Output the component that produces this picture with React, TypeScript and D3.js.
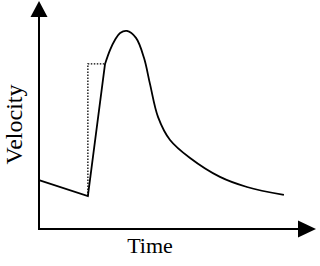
import React from "react";
import * as d3 from "d3";

// Schematic velocity profile (arbitrary units)
const decayTime = [0, 18.8, 25.4];
const decayVelocity = [23.3, 15.7, 78.6];

const pulseTime = [25.4, 27.3, 29.2, 31.2, 33.8, 37.3, 40.4, 42.7, 45.8, 50.4, 58.1, 69.6, 80.0, 94.2];
const pulseVelocity = [78.6, 85.2, 90.0, 93.3, 94.3, 91.0, 81.4, 69.0, 53.3, 42.4, 33.8, 24.8, 20.0, 16.2];

const stepTime = [18.8, 18.8, 25.4];
const stepVelocity = [15.7, 78.6, 78.6];

const xLabel = "Time";
const yLabel = "Velocity";

export default function App() {
  const W = 320, H = 266;
  const x = d3.scaleLinear().domain([0, 100]).range([39, 299]);
  const y = d3.scaleLinear().domain([0, 100]).range([229, 19]);

  const lin = d3.line<[number, number]>().x(d => x(d[0])).y(d => y(d[1])).curve(d3.curveLinear);
  const smooth = d3.line<[number, number]>().x(d => x(d[0])).y(d => y(d[1])).curve(d3.curveCatmullRom.alpha(0.5));

  const decay = decayTime.map((t, i) => [t, decayVelocity[i]] as [number, number]);
  const pulse = pulseTime.map((t, i) => [t, pulseVelocity[i]] as [number, number]);
  const step = stepTime.map((t, i) => [t, stepVelocity[i]] as [number, number]);

  const x0 = x(0), y0 = y(0);
  const font = "'Liberation Serif', 'Times New Roman', serif";

  return (
    <svg width={W} height={H} style={{ position: "absolute", left: 0, top: 0, background: "#fff" }}>
      <rect width={W} height={H} fill="#fff" />
      {/* axes */}
      <line x1={x0} y1={y0} x2={x0} y2={17} stroke="#000" strokeWidth={2} />
      <path d={`M${x0 - 8.5},17 L${x0 + 8.5},17 L${x0},1 Z`} fill="#000" />
      <line x1={x0 - 1} y1={y0} x2={298} y2={y0} stroke="#000" strokeWidth={2} />
      <path d={`M298,${y0 - 8.5} L298,${y0 + 8.5} L316,${y0} Z`} fill="#000" />

      {/* dotted step */}
      <path d={lin(step) || ""} fill="none" stroke="#000" strokeWidth={1.3} strokeDasharray="1.5 1.5" />
      {/* curve */}
      <path d={lin(decay) || ""} fill="none" stroke="#000" strokeWidth={1.8} strokeLinejoin="miter" />
      <path d={smooth(pulse) || ""} fill="none" stroke="#000" strokeWidth={1.8} />

      <text x={150} y={253} textAnchor="middle" fontFamily={font} fontSize={22} fill="#000">{xLabel}</text>
      <text transform="translate(21.5,124.5) rotate(-90)" textAnchor="middle" fontFamily={font} fontSize={24} fill="#000">{yLabel}</text>
    </svg>
  );
}
